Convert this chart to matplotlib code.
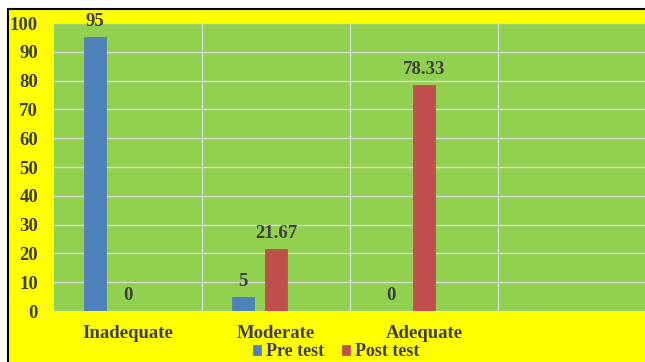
import matplotlib
matplotlib.use("Agg")
import matplotlib.pyplot as plt
from matplotlib.patches import Rectangle
import numpy as np

categories = ["Inadequate", "Moderate", "Adequate", ""]
pre_test = [95, 5, 0, None]
post_test = [0, 21.67, 78.33, None]
pre_labels = ["95", "5", "0"]
post_labels = ["0", "21.67", "78.33"]
yticks = [0, 10, 20, 30, 40, 50, 60, 70, 80, 90, 100]

plt.rcParams['font.family'] = ['Liberation Serif', 'DejaVu Serif']
txt_color = '#404040'
fs = 13.5

fig = plt.figure(figsize=(6.45, 3.62), dpi=100)
fig.patch.set_facecolor('white')
W, H = 645, 362
# yellow frame with black border at left/top (cropped on right/bottom)
fig.patches.append(Rectangle((7.5 / W, -0.1), 1.2, 1.1 - 9.5 / H, transform=fig.transFigure,
                             facecolor='#FFFF00', edgecolor='black', linewidth=1.5, zorder=-5))

left, right, top, bottom = 54, 646, 23, 311
ax = fig.add_axes([left / W, 1 - bottom / H, (right - left) / W, (bottom - top) / H])
ax.set_zorder(2)
ax.set_facecolor('#92D050')

x = np.arange(len(categories))
bw = 0.155
off = 0.223
pre_x = [x[i] - off for i in range(3)]
post_x = [x[i] for i in range(3)]
ax.bar(pre_x, pre_test[:3], width=bw, color='#4F81BD', edgecolor='#4A7AB5', linewidth=0.5, zorder=3, label='Pre test')
ax.bar(post_x, post_test[:3], width=bw, color='#C0504D', edgecolor='#B54B48', linewidth=0.5, zorder=3, label='Post test')

for xi, v, lab in zip(pre_x, pre_test[:3], pre_labels):
    ax.annotate(lab, (xi, v), xytext=(0, 5), textcoords='offset points', ha='center', va='bottom',
                fontsize=fs, fontweight='bold', color=txt_color, annotation_clip=False, zorder=5)
for xi, v, lab in zip(post_x, post_test[:3], post_labels):
    ax.annotate(lab, (xi, v), xytext=(0, 5), textcoords='offset points', ha='center', va='bottom',
                fontsize=fs, fontweight='bold', color=txt_color, annotation_clip=False, zorder=5)

ax.set_xlim(-0.5, 3.5)
ax.set_ylim(0, 100)
ax.set_yticks(yticks)
ax.set_yticklabels([str(t) for t in yticks], fontsize=fs, fontweight='bold', color=txt_color)
ax.set_xticks(x)
ax.set_xticklabels(categories, fontsize=fs, fontweight='bold', color=txt_color)
ax.set_xticks([0.5, 1.5, 2.5], minor=True)
ax.tick_params(axis='both', which='both', length=0)
ax.tick_params(axis='y', pad=11.5)
ax.tick_params(axis='x', pad=10)
ax.grid(axis='y', color='#D9D9D9', linewidth=1, zorder=1)
ax.grid(axis='x', which='minor', color='#D9D9D9', linewidth=1, zorder=1)
ax.set_axisbelow(True)
for s in ax.spines.values():
    s.set_visible(False)

leg = fig.legend(loc='center', bbox_to_anchor=(336 / W, 1 - 352 / H), ncol=2, frameon=False,
                 prop={'family': 'Liberation Serif', 'weight': 'bold', 'size': 13},
                 handlelength=0.45, handleheight=0.45, handletextpad=0.25, columnspacing=1.0,
                 borderpad=0, borderaxespad=0)
for t in leg.get_texts():
    t.set_color(txt_color)

fig.savefig('out.png', dpi=100, facecolor=fig.get_facecolor())
